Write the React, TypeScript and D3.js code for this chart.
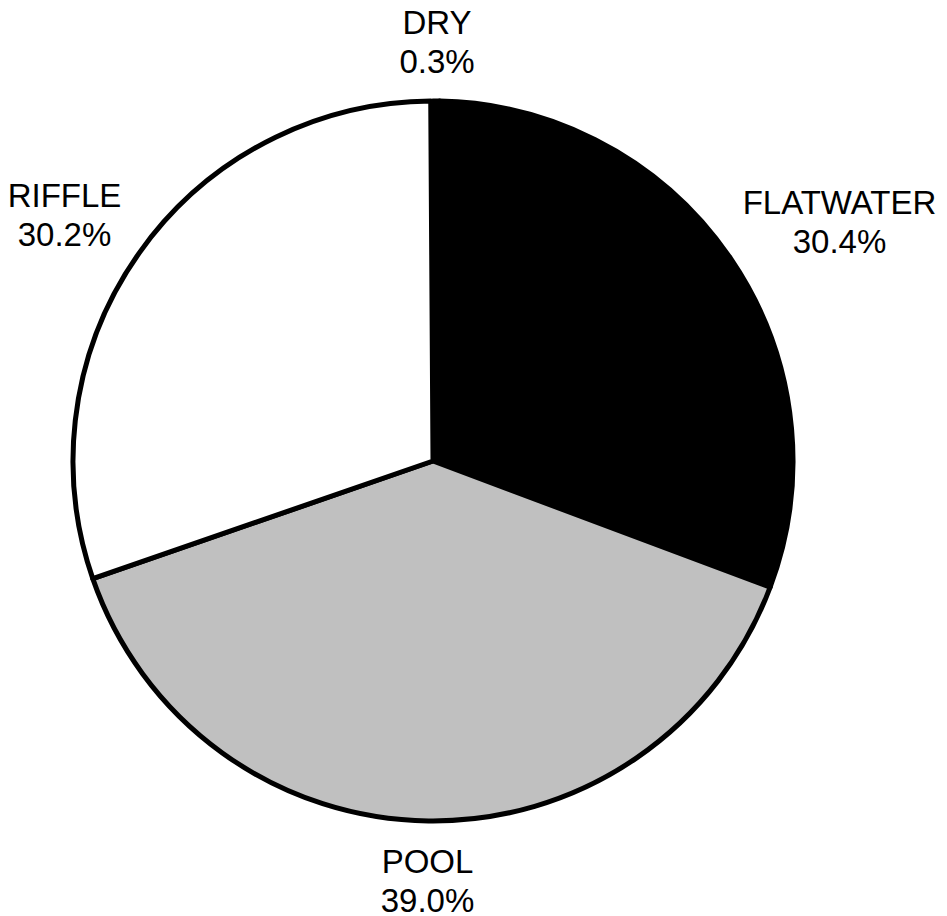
import React from "react";
import * as d3 from "d3";

const categories = ["DRY", "FLATWATER", "POOL", "RIFFLE"];
const values = [0.3, 30.4, 39.0, 30.2];
const colors = ["#000000", "#000000", "#c0c0c0", "#ffffff"];

const W = 947;
const H = 916;
const CX = 433;
const CY = 461;
const R = 360;
const LABEL_R = 388;
const LABEL_R_SIDE = 8;
const FONT = 33;
const LINE = 39;
const FONT_FAMILY = "'Liberation Sans', Arial, sans-serif";

function measure(text: string): number {
  const c = document.createElement("canvas");
  const ctx = c.getContext("2d");
  if (!ctx) return text.length * FONT * 0.6;
  ctx.font = `${FONT}px 'Liberation Sans', Arial, sans-serif`;
  return ctx.measureText(text).width;
}

export default function App() {
  const data = categories.map((c, i) => ({ name: c, value: values[i], color: colors[i] }));
  const pie = d3
    .pie<{ name: string; value: number; color: string }>()
    .sort(null)
    .value((d) => d.value)
    .startAngle(0)
    .endAngle(2 * Math.PI * (d3.sum(values) / 100));
  const arcs = pie(data);
  const arc = d3
    .arc<d3.PieArcDatum<{ name: string; value: number; color: string }>>()
    .innerRadius(0)
    .outerRadius(R);

  const capH = FONT * 0.716;
  const boxH = capH + LINE;

  return (
    <svg
      width={W}
      height={H}
      style={{ position: "absolute", left: 0, top: 0, background: "#fff" }}
      fontFamily={FONT_FAMILY}
    >
      <rect width={W} height={H} fill="#fff" />
      <g transform={`translate(${CX},${CY})`}>
        {arcs.map((a, i) => (
          <path
            key={i}
            d={arc(a) || ""}
            fill={a.data.color}
            stroke="#000"
            strokeWidth={5}
            strokeLinejoin="round"
          />
        ))}
        {arcs.map((a, i) => {
          const mid = (a.startAngle + a.endAngle) / 2;
          const l1 = a.data.name;
          const l2 = a.data.value.toFixed(1) + "%";
          const w = Math.max(measure(l1), measure(l2));
          const rl = LABEL_R + LABEL_R_SIDE * Math.abs(Math.sin(mid));
          const ax = Math.sin(mid) * rl;
          const ay = -Math.cos(mid) * rl;
          const cx = ax + (Math.sin(mid) * w) / 2;
          const cy = ay - (Math.cos(mid) * boxH) / 2;
          const top = cy - boxH / 2;
          return (
            <text key={"t" + i} textAnchor="middle" fontSize={FONT} fill="#000">
              <tspan x={cx} y={top + capH}>
                {l1}
              </tspan>
              <tspan x={cx} y={top + capH + LINE}>
                {l2}
              </tspan>
            </text>
          );
        })}
      </g>
    </svg>
  );
}
